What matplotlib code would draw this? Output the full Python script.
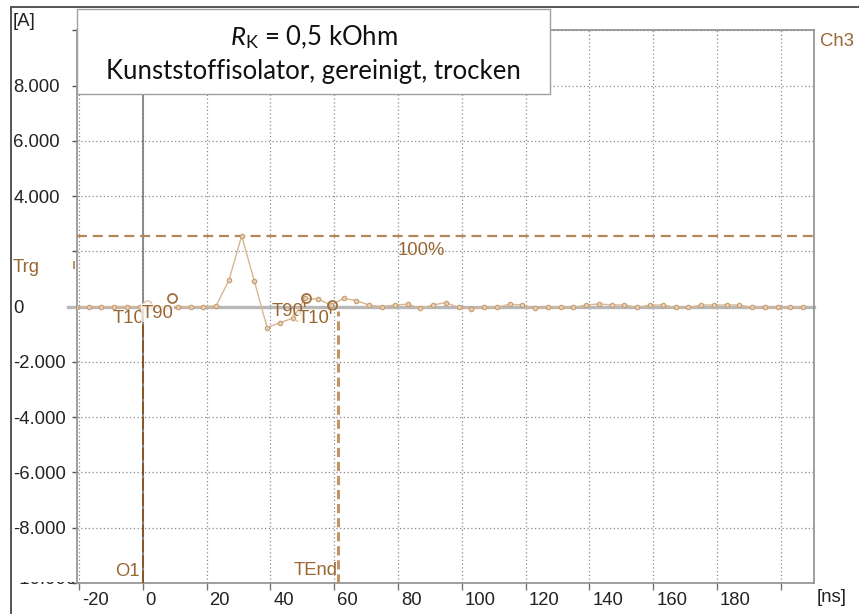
import matplotlib
matplotlib.use("Agg")
import matplotlib.pyplot as plt
from matplotlib.lines import Line2D
from matplotlib.patches import Rectangle
from matplotlib.transforms import Bbox, ScaledTranslation, blended_transform_factory
from matplotlib.ticker import FixedLocator

# ---------------- data ----------------
time_ns = [-21, -17, -13, -9, -5, -1, 3, 7, 11, 15, 19, 23, 27, 31, 35, 39, 43, 47, 51, 55,
           59, 63, 67, 71, 75, 79, 83, 87, 91, 95, 99, 103, 107, 111, 115, 119, 123, 127,
           131, 135, 139, 143, 147, 151, 155, 159, 163, 167, 171, 175, 179, 183, 187, 191,
           195, 199, 203, 207]
current_a = [0, 0, 0, 0, 0, 0, 0, 0, 0, 0, 0, 30, 950, 2560, 920, -760, -580, -420, 300, 270,
             60, 300, 220, 50, 0, 60, 90, -60, 60, 150, -30, -80, -30, -30, 90, 60, -60, -30,
             -30, -30, 60, 100, 60, 60, -30, 60, 60, -30, -30, 60, 60, 60, 60, -30, -30,
             -30, -30, -30]
assert len(time_ns) == len(current_a)

level_100 = 2560
trg_level = 1500
o1_t = 0
tend_t = 61.2
cursor_dark_t = [9.3, 51.3, 59.2]
cursor_dark_v = [316, 305, 60]
cursor_light_t = [1.3, 48.3]
cursor_light_v = [70, -340]

x_ticks = [-20, 0, 20, 40, 60, 80, 100, 120, 140, 160, 180, 200]
x_labels = ["-20", "0", "20", "40", "60", "80", "100", "120", "140", "160", "180", ""]
y_ticks = [-10000, -8000, -6000, -4000, -2000, 0, 2000, 4000, 6000, 8000, 10000]
y_labels = ["", "-8.000", "-6.000", "-4.000", "-2.000", "0", "", "4.000", "6.000", "8.000", ""]

title_1 = r"$R_\mathrm{K}$ = 0,5 kOhm"
title_2 = "Kunststoffisolator, gereinigt, trocken"

# ---------------- style ----------------
W, H = 859, 614
plt.rcParams["font.family"] = ["Liberation Sans", "DejaVu Sans"]
plt.rcParams["mathtext.fontset"] = "custom"
plt.rcParams["mathtext.rm"] = "Lato"
plt.rcParams["mathtext.it"] = "Lato:italic"

BROWN = "#9a6632"
DARKBROWN = "#86531f"
TAN = "#d8b690"
GRID = "#8a8a8a"
SPINE = "#8f8f8f"
FS = 13.3

def fx(px):
    return px / W

def fy(py):
    return 1 - py / H

fig = plt.figure(figsize=(W / 100, H / 100), dpi=100)
ax = fig.add_axes([fx(76.7), fy(583), fx(814.3) - fx(76.7), fy(29.5) - fy(583)])
ax.set_xlim(-20.7, 210.5)
ax.set_ylim(-10000, 10030)

for s in ax.spines.values():
    s.set_color(SPINE)
    s.set_linewidth(1.2)

ax.xaxis.set_major_locator(FixedLocator(x_ticks))
ax.yaxis.set_major_locator(FixedLocator(y_ticks))
ax.set_xticklabels(x_labels)
ax.set_yticklabels(y_labels)
ax.tick_params(axis="x", length=5, width=1, color="#777777", pad=1.2,
               labelsize=FS, labelcolor="#222222")
ax.tick_params(axis="y", length=3.5, width=1, color="#555555", pad=42.2,
               labelsize=FS, labelcolor="#222222")
for lbl in ax.get_yticklabels():
    lbl.set_horizontalalignment("left")
off = ScaledTranslation(3 / 100, 0, fig.dpi_scale_trans)
for lbl in ax.get_xticklabels():
    lbl.set_horizontalalignment("left")
    lbl.set_transform(lbl.get_transform() + off)

ax.grid(True, color=GRID, linestyle=(0, (1, 2)), linewidth=0.9)

# zero line and t = 0 line
ax.axhline(0, xmin=-0.012, xmax=1, color="#b8b8b8", lw=2.4, clip_on=False, zorder=2)
ax.axvline(0, color="#7a7a7a", lw=1.2, zorder=2)

# 100 % level
ax.axhline(level_100, color="#b3875a", lw=1.6, dashes=(4.5, 2.6), zorder=3)
ax.text(80, 2050, "100%", color=BROWN, fontsize=FS, ha="left", va="center")

# waveform
ax.plot(time_ns, current_a, color=TAN, lw=1.0, marker="o", ms=3.2,
        mfc="#e6cfb4", mec="#c79d70", mew=0.8, zorder=4)

# cursor lines
ax.vlines(o1_t, -10000, -410, colors=DARKBROWN, lw=1.3, linestyles=(0, (7, 1.5)), zorder=5)
ax.vlines(tend_t, -10000, -150, colors="#c49466", lw=2.2, linestyles=(0, (3, 1.6)), zorder=5)

# cursor circles
ax.plot(cursor_light_t, cursor_light_v, ls="none", marker="o", ms=6.5, mfc="none",
        mec="#e2c9ad", mew=1.2, zorder=6)
ax.plot(cursor_dark_t, cursor_dark_v, ls="none", marker="o", ms=6.5, mfc="none",
        mec="#a0703f", mew=1.3, zorder=6)

# cursor labels
ax.text(-9.3, -445, "T10", color=BROWN, fontsize=FS, ha="left", va="center", zorder=7)
ax.text(-0.3, -230, "T90", color=BROWN, fontsize=FS, ha="left", va="center", zorder=8,
        bbox=dict(facecolor="white", alpha=0.75, edgecolor="none", pad=0.3))
ax.text(40.4, -190, "T90'", color=BROWN, fontsize=FS, ha="left", va="center", zorder=7)
ax.text(48.7, -445, "T10'", color=BROWN, fontsize=FS, ha="left", va="center", zorder=8,
        bbox=dict(facecolor="white", alpha=0.75, edgecolor="none", pad=0.3))
ax.text(-0.8, -9570, "O1", color=BROWN, fontsize=FS, ha="right", va="center", zorder=7)
ax.text(61.0, -9550, "TEnd", color=BROWN, fontsize=FS, ha="right", va="center", zorder=7)

# trigger marker on the left
trans_l = blended_transform_factory(ax.transAxes, ax.transData)
ax.plot([-0.0035], [trg_level], transform=trans_l, marker="|", ms=6, mew=1.2,
        color="#b08050", clip_on=False, ls="none")

# figure texts
fig.text(fx(13), fy(267), "Trg", color=BROWN, fontsize=FS, ha="left", va="center")
fig.text(fx(820), fy(41), "Ch3", color=BROWN, fontsize=FS, ha="left", va="center")
fig.text(fx(13), fy(22), "[A]", color="#222222", fontsize=FS, ha="left", va="center")
fig.text(fx(817), fy(597), "[ns]", color="#222222", fontsize=FS, ha="left", va="center")

# partially hidden bottom label
t_cut = fig.text(fx(13), fy(584), "-10.000", color="#222222", fontsize=FS,
                 ha="left", va="baseline")
t_cut.set_clip_box(Bbox.from_extents(0, H - 584.5, 100, H - 582))
t_cut.set_clip_on(True)

# outer frame lines
fig.add_artist(Line2D([fx(11), fx(859)], [fy(7), fy(7)], color="#555555", lw=1.4))
fig.add_artist(Line2D([fx(11), fx(11)], [fy(7), fy(614)], color="#555555", lw=1.4))

# title box
fig.add_artist(Rectangle((fx(77), fy(94)), fx(550) - fx(77), fy(9) - fy(94),
                         transform=fig.transFigure, facecolor="white",
                         edgecolor="#a0a0a0", lw=1.0, zorder=10))
fig.text(fx(313.5), fy(37), title_1, fontsize=18.5, family="Lato", ha="center",
         va="center", color="#111111", zorder=11)
fig.text(fx(313.5), fy(71), title_2, fontsize=18.5, family="Lato", ha="center",
         va="center", color="#111111", zorder=11)

fig.savefig("out.png", dpi=100)
